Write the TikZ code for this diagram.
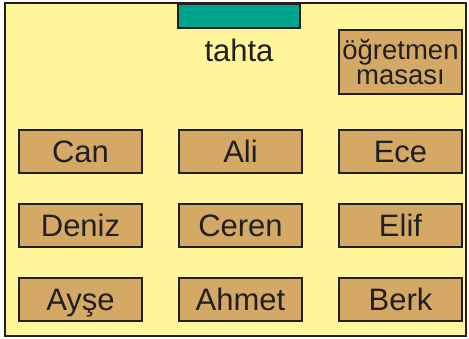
\documentclass[tikz,border=0pt]{standalone}
\usepackage{fontspec}
\setmainfont{Liberation Sans}
\usepackage{xcolor}
\definecolor{roomYellow}{HTML}{FFF59B}
\definecolor{deskTan}{HTML}{D4A966}
\definecolor{boardTeal}{HTML}{00A38B}
\definecolor{lineDark}{HTML}{231F20}
\usepackage{tikz}
\usetikzlibrary{positioning}
\tikzset{%
  roomFrame/.style={%
    draw=lineDark,
    fill=roomYellow,
    line width=2pt
  },
  seatBox/.style={%
    rectangle,
    draw=lineDark,
    fill=deskTan,
    line width=2pt,
    minimum width=123pt,
    minimum height=43pt,
    inner sep=0pt,
    text=lineDark,
    font=\fontsize{31}{31}\selectfont,
    text height=22pt,
    text depth=0pt
  },
  teacherDesk/.style={%
    seatBox,
    minimum height=64pt,
    align=center,
    text height=,
    text depth=,
    font=\fontsize{27.5}{25}\selectfont
  },
  boardBox/.style={%
    rectangle,
    draw=lineDark,
    fill=boardTeal,
    line width=2pt,
    minimum width=122pt,
    minimum height=24pt,
    inner sep=0pt
  },
  boardLabel/.style={%
    text=lineDark,
    inner sep=0pt,
    font=\fontsize{31}{31}\selectfont,
    text height=22pt,
    text depth=0pt
  }
}

\begin{document}
\begin{tikzpicture}[x=1pt, y=-1pt]
            \useasboundingbox (0,0) rectangle (469,339);
            \draw[roomFrame] (5,3) rectangle (466,336);

            % board and teacher
            \node[boardBox] (board) at (239,16) {};
            \node[boardLabel] (tahta) at (239,50.5) {tahta};

            % seats
            \node[seatBox] (can) at (80.5,151.5) {Can};
            \node[seatBox, right=35pt of can] (ali) {Ali};
            \node[seatBox, right=35pt of ali] (ece) {Ece};
            \node[seatBox, below=29pt of can] (deniz) {Deniz};
            \node[seatBox, right=35pt of deniz] (ceren) {Ceren};
            \node[seatBox, right=35pt of ceren] (elif) {Elif};
            \node[seatBox, below=29pt of deniz] (ayse) {Ayşe};
            \node[seatBox, right=35pt of ayse] (ahmet) {Ahmet};
            \node[seatBox, right=35pt of ahmet] (berk) {Berk};

            \node[teacherDesk, above=34pt of ece] (masa) {öğretmen\\masası};
        \end{tikzpicture}
\end{document}
